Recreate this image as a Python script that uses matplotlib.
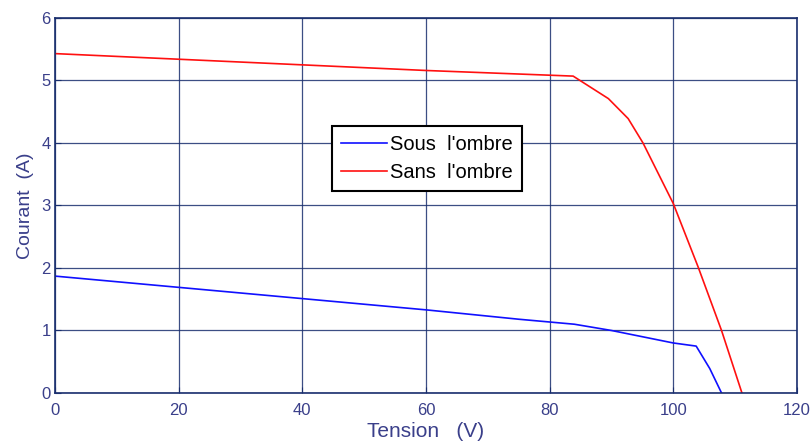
import numpy as np
import matplotlib as mpl
mpl.use('Agg')
import matplotlib.pyplot as plt

# courbes I(V)
v_sous = [0, 20, 40, 60, 75, 84, 90, 100, 103.7, 105.9, 107.8]
i_sous = [1.87, 1.69, 1.51, 1.33, 1.18, 1.10, 1.00, 0.80, 0.75, 0.39, 0.0]

v_sans = [0, 20, 40, 60, 83.8, 89.5, 92.7, 95.1, 100, 104, 107.8, 111.1]
i_sans = [5.43, 5.34, 5.25, 5.16, 5.07, 4.71, 4.39, 4.00, 3.03, 2.02, 1.00, 0.0]

x_ticks = [0, 20, 40, 60, 80, 100, 120]
y_ticks = [0, 1, 2, 3, 4, 5, 6]

navy = '#1a2f6e'
label_col = '#3a3f8a'

plt.rcParams['font.family'] = ['Liberation Sans', 'DejaVu Sans']

fig = plt.figure(figsize=(8.11, 4.45), dpi=100)
ax = fig.add_axes([0.0678, 0.1169, 0.9149, 0.8427])

ax.plot(v_sous, i_sous, color='#1010ff', lw=1.2, label='Sous  l\'ombre')
ax.plot(v_sans, i_sans, color='#ff1010', lw=1.2, label='Sans  l\'ombre')

ax.set_xlim(0, 120)
ax.set_ylim(0, 6)
ax.set_xticks(x_ticks)
ax.set_yticks(y_ticks)
ax.grid(True, color=navy, lw=0.9, alpha=0.85)
ax.tick_params(direction='in', colors=navy, labelcolor=label_col,
               labelsize=12, length=4)
ax.tick_params(axis='x', pad=7)
ax.tick_params(axis='y', pad=3)
for s in ax.spines.values():
    s.set_color(navy)
    s.set_linewidth(1.2)

ax.set_xlabel('Tension   (V)', fontsize=15, color=label_col, labelpad=3)
ax.set_ylabel('Courant  (A)', fontsize=14, color=label_col, labelpad=5)

leg = ax.legend(loc='upper left', bbox_to_anchor=(0.373, 0.713),
                borderaxespad=0, fontsize=14.5, frameon=True, fancybox=False,
                handlelength=2.3, handletextpad=0.15, borderpad=0.45,
                labelspacing=0.45)
leg.get_frame().set_edgecolor('black')
leg.get_frame().set_linewidth(1.5)
leg.get_frame().set_alpha(1)

plt.savefig('out.png', dpi=100)
plt.close()
